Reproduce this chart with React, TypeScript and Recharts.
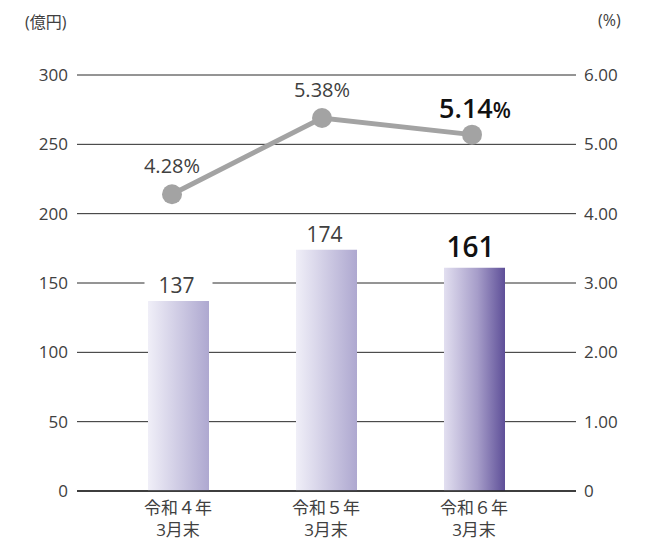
import React from "react";
import {
  ComposedChart,
  Bar,
  Line,
  XAxis,
  YAxis,
  CartesianGrid,
  Cell,
  LabelList,
} from "recharts";

// データ
const categories = ["令和４年", "令和５年", "令和６年"];
const subLabels = ["3月末", "3月末", "3月末"];
const amounts = [137, 174, 161];
const ratios = [4.28, 5.38, 5.14];
const leftTicks = [0, 50, 100, 150, 200, 250, 300];
const rightTicks = [0, 1, 2, 3, 4, 5, 6];

const FONT = "'Open Sans', 'Noto Sans CJK JP', sans-serif";
const TEXT = "#404040";

const data = categories.map((c, i) => ({
  name: c,
  sub: subLabels[i],
  amount: amounts[i],
  ratio: ratios[i],
}));

const last = categories.length - 1;

function CategoryTick(props: any) {
  const { x, payload, index } = props;
  return (
    <g transform={`translate(${x},491)`}>
      <text textAnchor="middle" fontFamily={FONT} fontSize={17} fill={TEXT}>
        <tspan x={0} y={23}>{payload.value}</tspan>
        <tspan x={0} y={45}>{subLabels[index]}</tspan>
      </text>
    </g>
  );
}

function BarLabel(props: any) {
  const { x, y, width, value, index } = props;
  const cx = x + width / 2;
  const strong = index === last;
  return (
    <g>
      {!strong && (
        <rect x={cx - 34} y={y - 30} width={68} height={26} fill="#ffffff" />
      )}
      <text
        x={strong ? cx - 4 : cx - 2}
        y={strong ? y - 11 : y - 8}
        textAnchor="middle"
        fontFamily={FONT}
        fontSize={strong ? 28 : 21}
        fontWeight={strong ? 600 : 400}
        fill={strong ? "#111111" : TEXT}
      >
        {value}
      </text>
    </g>
  );
}

function LineLabel(props: any) {
  const { x, y, value, index } = props;
  const strong = index === last;
  const v = Number(value).toFixed(2);
  if (strong) {
    return (
      <text x={x + 3} y={y - 17} textAnchor="middle" fontFamily={FONT} fill="#111111" fontWeight={600}>
        <tspan fontSize={27}>{v}</tspan>
        <tspan fontSize={21}>%</tspan>
      </text>
    );
  }
  return (
    <text x={x} y={y - 21} textAnchor="middle" fontFamily={FONT} fontSize={20} fill={TEXT}>
      {v}%
    </text>
  );
}

export default function App() {
  return (
    <div style={{ position: "absolute", left: 0, top: 0, width: 659, height: 540, background: "#fff" }}>
      <div style={{ position: "absolute", left: 25, top: 9, fontFamily: FONT, fontSize: 16, color: TEXT }}>
        (億円)
      </div>
      <div style={{ position: "absolute", left: 598, top: 9, fontFamily: FONT, fontSize: 16, color: TEXT }}>
        (%)
      </div>
      <ComposedChart
        width={659}
        height={540}
        data={data}
        margin={{ top: 75, right: 0, bottom: 0, left: 0 }}
      >
        <defs>
          <linearGradient id="gLight" x1="0" y1="0" x2="1" y2="0">
            <stop offset="0%" stopColor="#f0eff8" />
            <stop offset="100%" stopColor="#aea8d0" />
          </linearGradient>
          <linearGradient id="gDark" x1="0" y1="0" x2="1" y2="0">
            <stop offset="0%" stopColor="#e2dff0" />
            <stop offset="55%" stopColor="#a69dc9" />
            <stop offset="100%" stopColor="#5e4f98" />
          </linearGradient>
        </defs>
        <CartesianGrid yAxisId="left" vertical={false} stroke="#2a2a2a" strokeWidth={1} />
        <XAxis
          xAxisId="bars"
          dataKey="name"
          height={49}
          padding={{ left: 27, right: 28 }}
          axisLine={{ stroke: "#222222", strokeWidth: 1.5 }}
          tickLine={false}
          tick={<CategoryTick />}
          interval={0}
        />
        <XAxis xAxisId="line" dataKey="name" hide padding={{ left: 20, right: 29 }} />
        <YAxis
          yAxisId="left"
          orientation="left"
          width={77}
          domain={[0, 300]}
          ticks={leftTicks}
          axisLine={false}
          tickLine={false}
          tickSize={0}
          tickMargin={9}
          tick={{ fontFamily: FONT, fontSize: 17, fill: TEXT }}
        />
        <YAxis
          yAxisId="right"
          orientation="right"
          width={83}
          domain={[0, 6]}
          ticks={rightTicks}
          axisLine={false}
          tickLine={false}
          tickSize={0}
          tickMargin={8}
          tickFormatter={(v: number) => (v === 0 ? "0" : v.toFixed(2))}
          tick={{ fontFamily: FONT, fontSize: 17, fill: TEXT }}
        />
        <Bar xAxisId="bars" yAxisId="left" dataKey="amount" barSize={61} isAnimationActive={false}>
          {data.map((d, i) => (
            <Cell key={d.name} fill={i === last ? "url(#gDark)" : "url(#gLight)"} />
          ))}
          <LabelList dataKey="amount" content={<BarLabel />} />
        </Bar>
        <Line
          xAxisId="line"
          yAxisId="right"
          dataKey="ratio"
          stroke="#a3a3a3"
          strokeWidth={5}
          dot={{ r: 10, fill: "#a3a3a3", stroke: "none" }}
          activeDot={false}
          isAnimationActive={false}
        >
          <LabelList dataKey="ratio" content={<LineLabel />} />
        </Line>
      </ComposedChart>
    </div>
  );
}
